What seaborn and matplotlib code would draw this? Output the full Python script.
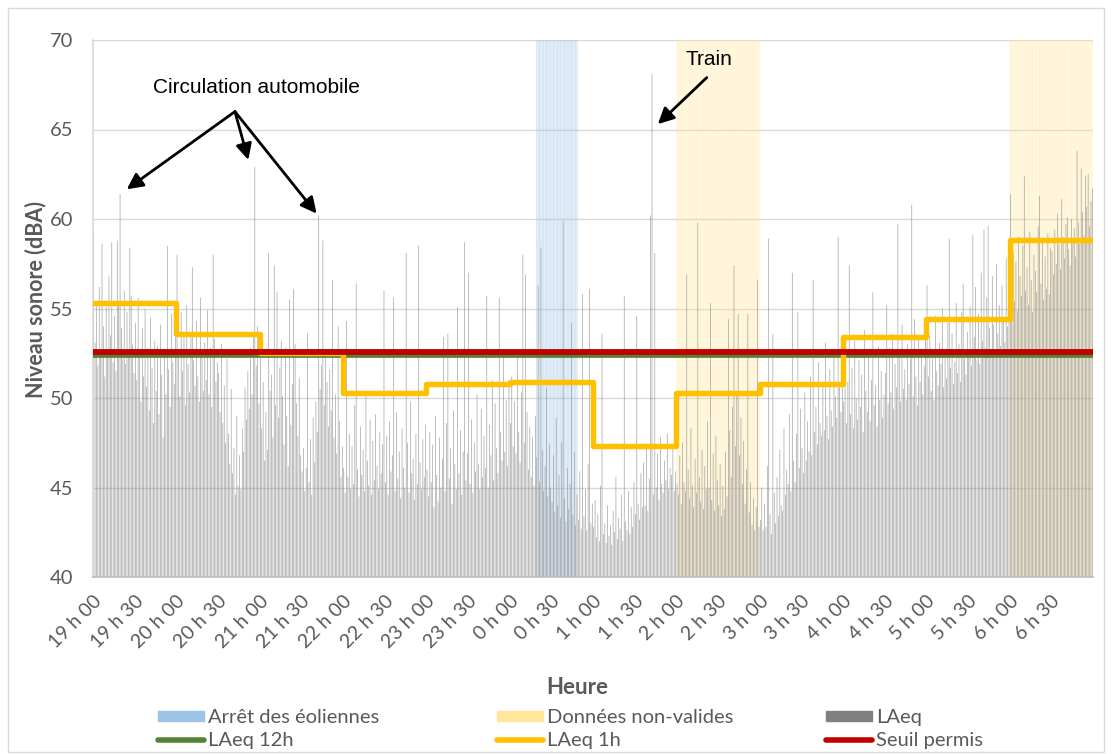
import numpy as np
import pandas as pd
import matplotlib
matplotlib.use("Agg")
import matplotlib.pyplot as plt
import seaborn as sns
from matplotlib.patches import Patch, Rectangle
from matplotlib.lines import Line2D

# ---------------- data ----------------
tick_labels = ["19 h 00", "19 h 30", "20 h 00", "20 h 30", "21 h 00", "21 h 30",
               "22 h 00", "22 h 30", "23 h 00", "23 h 30", "0 h 00", "0 h 30",
               "1 h 00", "1 h 30", "2 h 00", "2 h 30", "3 h 00", "3 h 30",
               "4 h 00", "4 h 30", "5 h 00", "5 h 30", "6 h 00", "6 h 30"]

# LAeq 1 min (dBA), one row per half hour starting at 19 h 00
laeq_rows = [
    [59.2, 53.1, 55.4, 51.8, 56.2, 52.4, 58.6, 54.0, 51.2, 55.1, 52.7, 56.8, 53.5, 58.7, 52.0, 54.6, 51.5, 58.8, 55.3, 61.4, 53.9, 52.2, 56.0, 51.9, 54.8, 52.6, 58.4, 55.7, 53.0, 51.4],
    [54.2, 51.0, 55.6, 52.3, 49.8, 53.9, 51.2, 55.0, 50.6, 52.8, 49.3, 54.5, 51.7, 48.6, 53.2, 50.4, 52.9, 49.1, 54.1, 51.3, 47.8, 52.5, 50.2, 58.5, 51.6, 49.5, 54.7, 52.0, 50.8, 53.4],
    [58.0, 52.4, 50.1, 54.8, 51.5, 53.7, 49.6, 55.2, 51.9, 50.3, 53.6, 57.3, 52.1, 50.7, 54.3, 51.2, 49.8, 55.6, 52.6, 50.4, 53.1, 51.0, 54.9, 50.2, 52.8, 49.5, 58.0, 53.3, 50.9, 52.0],
    [51.4, 49.2, 53.0, 48.6, 50.7, 47.5, 52.2, 48.0, 46.3, 50.5, 45.8, 47.2, 44.6, 49.0, 45.1, 46.8, 44.9, 48.3, 47.0, 50.6, 48.8, 51.5, 49.4, 52.8, 50.2, 53.6, 62.9, 51.8, 54.0, 49.7],
    [52.6, 48.3, 50.9, 46.5, 49.2, 47.1, 58.1, 50.4, 51.3, 47.8, 57.4, 49.6, 55.9, 48.9, 51.7, 53.2, 50.1, 47.4, 52.8, 49.0, 46.2, 55.5, 48.5, 50.8, 56.1, 53.0, 49.7, 47.9, 51.1, 46.8],
    [45.9, 47.2, 44.8, 46.1, 53.6, 45.3, 47.7, 44.6, 48.9, 46.4, 49.8, 48.1, 60.2, 50.5, 51.8, 58.8, 49.6, 52.3, 50.9, 48.4, 51.6, 49.3, 56.6, 47.8, 50.2, 46.9, 54.0, 48.7, 45.6, 47.3],
    [46.1, 44.7, 54.3, 45.6, 48.0, 44.9, 47.3, 45.2, 49.6, 56.4, 46.0, 44.5, 48.4, 45.7, 47.1, 44.8, 50.3, 46.5, 45.1, 48.8, 44.6, 47.6, 45.4, 49.1, 46.2, 44.9, 48.1, 45.8, 47.4, 56.0],
    [45.3, 47.9, 44.6, 48.7, 45.9, 46.8, 55.6, 44.8, 49.2, 45.5, 47.0, 44.4, 48.3, 46.1, 45.0, 58.1, 47.5, 44.7, 49.8, 45.8, 46.6, 44.3, 48.0, 45.2, 58.5, 46.4, 44.9, 47.7, 45.6, 48.5],
    [46.0, 44.5, 48.1, 45.3, 47.4, 43.9, 49.0, 45.7, 44.2, 47.8, 45.0, 46.6, 53.4, 44.8, 48.6, 53.6, 45.5, 47.2, 44.1, 49.3, 46.3, 44.9, 55.1, 45.8, 48.2, 44.6, 47.0, 58.7, 45.4, 46.9],
    [57.0, 45.2, 48.8, 44.7, 47.5, 45.9, 50.2, 46.3, 44.9, 49.4, 45.6, 47.9, 46.1, 55.7, 45.0, 48.5, 46.8, 51.0, 45.4, 49.7, 47.2, 45.8, 55.6, 48.1, 46.5, 52.3, 47.0, 49.9, 46.2, 50.8],
    [48.6, 51.2, 47.3, 49.8, 46.9, 52.5, 48.1, 46.4, 50.3, 58.0, 47.5, 56.9, 49.2, 46.0, 48.4, 45.6, 47.8, 45.1, 49.0, 46.7, 56.3, 45.3, 58.4, 47.1, 44.8, 46.2, 50.6, 44.5, 47.4, 45.0],
    [44.2, 46.8, 43.6, 48.9, 44.0, 45.7, 43.3, 47.5, 59.9, 44.4, 43.1, 46.1, 43.8, 45.2, 54.2, 43.5, 47.0, 42.9, 44.6, 43.2, 45.9, 42.7, 55.8, 43.4, 44.9, 42.6, 46.3, 56.1, 43.0, 44.1],
    [42.8, 44.3, 42.2, 43.5, 42.0, 45.1, 53.6, 42.4, 43.0, 41.9, 44.0, 42.3, 42.9, 41.8, 43.7, 42.5, 45.6, 42.1, 43.3, 42.7, 44.6, 42.0, 55.7, 43.1, 42.6, 44.8, 42.4, 43.9, 42.8, 45.3],
    [43.5, 54.6, 44.1, 43.2, 45.8, 43.9, 46.4, 44.0, 47.2, 43.7, 45.5, 60.2, 68.1, 44.6, 58.1, 45.0, 46.9, 44.3, 47.8, 45.2, 44.7, 46.5, 45.4, 48.0, 44.9, 46.1, 45.7, 47.3, 44.8, 45.9],
    [45.2, 44.6, 46.8, 44.1, 47.5, 45.3, 44.8, 56.9, 46.0, 44.4, 48.3, 45.1, 43.9, 46.6, 44.7, 59.8, 45.6, 44.2, 47.1, 43.8, 46.2, 44.9, 48.7, 45.0, 55.3, 44.3, 46.9, 43.7, 47.9, 45.4],
    [44.0, 46.3, 43.4, 45.1, 43.8, 47.0, 44.5, 54.4, 48.2, 45.6, 49.5, 57.4, 47.3, 50.1, 54.7, 46.8, 48.9, 45.2, 47.6, 44.1, 46.0, 54.7, 43.6, 45.3, 42.9, 44.4, 42.6, 43.9, 56.6, 42.8],
    [43.2, 45.0, 42.6, 44.1, 42.8, 46.2, 58.9, 43.5, 42.4, 53.6, 44.7, 43.0, 45.6, 43.4, 47.1, 44.0, 43.7, 48.3, 44.6, 46.0, 45.2, 49.1, 44.8, 57.0, 46.5, 45.3, 48.0, 54.8, 46.1, 49.4],
    [47.2, 45.8, 50.3, 46.5, 48.7, 47.0, 51.2, 46.8, 56.6, 48.1, 49.5, 47.4, 52.0, 48.6, 47.9, 50.8, 48.2, 53.1, 49.0, 47.7, 51.6, 49.3, 48.4, 52.7, 50.1, 48.9, 59.0, 50.6, 49.2, 53.5],
    [49.8, 52.4, 48.6, 50.9, 57.4, 49.1, 51.7, 48.3, 53.2, 50.0, 48.8, 52.1, 49.5, 51.3, 48.1, 53.8, 50.4, 49.2, 52.6, 48.7, 51.0, 55.9, 49.6, 50.7, 48.4, 52.9, 49.9, 51.5, 48.9, 50.2],
    [51.4, 55.2, 49.7, 52.8, 50.3, 53.6, 49.4, 51.9, 50.6, 59.7, 52.3, 49.8, 54.1, 50.5, 51.6, 49.9, 53.0, 50.8, 52.2, 60.8, 50.1, 54.4, 51.2, 49.6, 53.3, 50.9, 52.5, 50.2, 51.8, 53.9],
    [56.3, 51.2, 53.5, 50.4, 52.7, 49.9, 54.6, 51.5, 50.7, 53.1, 51.9, 55.0, 50.6, 52.4, 51.1, 54.2, 58.9, 51.7, 53.6, 50.8, 52.0, 55.3, 51.4, 53.0, 50.9, 54.8, 56.4, 52.2, 51.3, 53.7],
    [52.6, 55.1, 51.8, 59.1, 53.4, 56.2, 52.1, 54.7, 51.9, 57.0, 53.2, 59.4, 52.8, 55.6, 59.6, 53.9, 52.4, 56.8, 54.1, 52.7, 57.5, 53.6, 55.2, 52.9, 56.3, 54.4, 53.1, 57.8, 54.0, 55.5],
    [61.4, 56.2, 58.1, 55.4, 57.6, 54.9, 59.0, 56.8, 55.7, 58.5, 62.4, 56.0, 57.3, 55.2, 59.3, 56.6, 54.8, 58.0, 57.1, 55.9, 59.6, 61.3, 56.4, 58.7, 55.5, 57.9, 56.1, 59.2, 55.8, 58.4],
    [58.2, 56.9, 59.4, 57.5, 60.3, 58.6, 57.2, 61.1, 59.0, 57.8, 59.7, 60.1, 58.3, 57.4, 60.0, 58.9, 59.5, 57.9, 63.8, 59.8, 58.6, 62.8, 60.4, 59.1, 62.4, 60.7, 62.5, 59.6, 61.0, 61.7],
]

# LAeq over each hour, 19 h to 6 h
laeq_1h = [55.3, 53.6, 52.5, 50.3, 50.8, 50.9, 47.3, 50.3, 50.8, 53.4, 54.4, 58.8]
laeq_12h = 52.4
seuil_permis = 52.55

# periods, in minutes after 19 h 00 (first, last)
arret_eoliennes = [(319, 348)]
donnees_non_valides = [(420, 479), (660, 719)]

# ---------------- figure ----------------
sns.set_theme(style="white")
plt.rcParams["font.family"] = ["Lato", "DejaVu Sans"]
GRAY_TXT = "#595959"

W, H = 1112, 754
fig = plt.figure(figsize=(W / 100, H / 100), dpi=100)
ax = fig.add_axes([93 / W, 1 - 577 / H, 1000 / W, 537 / H])

laeq = np.concatenate([np.array(r, dtype=float) for r in laeq_rows])
minutes = np.arange(len(laeq))
df = pd.DataFrame({"minute": minutes, "laeq": laeq})

# shaded periods drawn as columns (like the original spreadsheet chart)
for periods, col in ((arret_eoliennes, "#9DC3E6"), (donnees_non_valides, "#FFE699")):
    for a, b in periods:
        xs = np.arange(a, b + 1)
        ax.bar(xs, np.full(len(xs), 30.0), bottom=40, width=0.8, color=col,
               alpha=0.45, linewidth=0, zorder=1, snap=False)

sns.barplot(data=df, x="minute", y="laeq", order=list(minutes), color="#8c8c8c",
            width=0.5, errorbar=None, saturation=1, linewidth=0, alpha=0.8,
            snap=False, ax=ax, zorder=2)

# LAeq 12h, LAeq 1h, seuil
xe = [-0.5, len(laeq) - 0.5]
sns.lineplot(x=xe, y=[laeq_12h, laeq_12h], color="#548235", linewidth=3.4,
             ax=ax, zorder=4)
hx = [60 * i - 0.5 for i in range(len(laeq_1h))] + [len(laeq) - 0.5]
hy = laeq_1h + [laeq_1h[-1]]
sns.lineplot(x=hx, y=hy, drawstyle="steps-post", color="#FFC000", linewidth=3.9,
             ax=ax, zorder=5)
sns.lineplot(x=xe, y=[seuil_permis, seuil_permis], color="#C00000", linewidth=4.2,
             ax=ax, zorder=6)

ax.set_xlim(-0.5, len(laeq) - 0.5)
ax.set_ylim(40, 70)

# axes styling
ax.set_yticks(np.arange(40, 71, 5))
ax.set_yticks(np.arange(40, 71, 1), minor=True)
ax.set_xticks([30 * i - 0.5 for i in range(len(tick_labels))])
ax.set_xticklabels(tick_labels, rotation=45, ha="right", va="top",
                   rotation_mode="anchor")
ax.set_xticks([15 * i - 0.5 for i in range(2 * len(tick_labels))], minor=True)
ax.tick_params(axis="both", which="both", direction="out", color="#bfbfbf",
               labelcolor=GRAY_TXT, width=0.8)
ax.tick_params(axis="y", which="both", length=6, pad=8, labelsize=14.5)
ax.tick_params(axis="x", which="both", length=5, pad=6, labelsize=14)
ax.yaxis.grid(True, color="#d9d9d9", linewidth=1)
ax.xaxis.grid(False)
ax.set_axisbelow(True)
for s in ("top", "right"):
    ax.spines[s].set_visible(False)
ax.spines["left"].set_color("#d9d9d9")
ax.spines["bottom"].set_color("#bfbfbf")
ax.set_xlabel("")
ax.set_ylabel("")

fig.text(36 / W, 1 - 300 / H, "Niveau sonore (dBA)", rotation=90, ha="center",
         va="center", fontsize=15.5, fontweight="bold", color=GRAY_TXT)
fig.text(577 / W, 1 - 688 / H, "Heure", ha="center", va="center", fontsize=16,
         fontweight="bold", color=GRAY_TXT)

# annotations
afont = dict(family=["Liberation Sans", "DejaVu Sans"], fontsize=15, color="black")
aprops = dict(arrowstyle="-|>", color="black", lw=2, mutation_scale=24,
              shrinkA=0, shrinkB=0)
ax.text(117.3, 67.05, "Circulation automobile", ha="center", va="baseline", **afont)
for tip in ((23.8, 61.66), (111.3, 63.3), (160.5, 60.3)):
    ax.annotate("", xy=tip, xytext=(101.7, 66.0), arrowprops=aprops)
ax.text(443, 68.6, "Train", ha="center", va="baseline", **afont)
ax.annotate("", xy=(406.2, 65.3), xytext=(441.4, 67.9), arrowprops=aprops)

# legend: three columns of two rows
cols = [
    ([Patch(color="#9DC3E6"), Line2D([], [], color="#548235", lw=4)],
     ["Arrêt des éoliennes", "LAeq 12h"], 158),
    ([Patch(color="#FFE699"), Line2D([], [], color="#FFC000", lw=4)],
     ["Données non-valides", "LAeq 1h"], 497),
    ([Patch(color="#808080"), Line2D([], [], color="#C00000", lw=4)],
     ["LAeq", "Seuil permis"], 826),
]
for handles, labels, x0 in cols:
    leg = fig.legend(handles, labels, loc="center left",
                     bbox_to_anchor=(x0 / W, 1 - 729 / H), frameon=False,
                     fontsize=14.5, handlelength=2.3, handleheight=0.4,
                     handletextpad=0.2, labelspacing=0.3, borderpad=0,
                     borderaxespad=0, labelcolor=GRAY_TXT)

fig.patches.append(Rectangle((8 / W, 2 / H), 1096 / W, 744 / H, transform=fig.transFigure,
                             fill=False, edgecolor="#d9d9d9", linewidth=1))

fig.savefig("out.png", dpi=100)
